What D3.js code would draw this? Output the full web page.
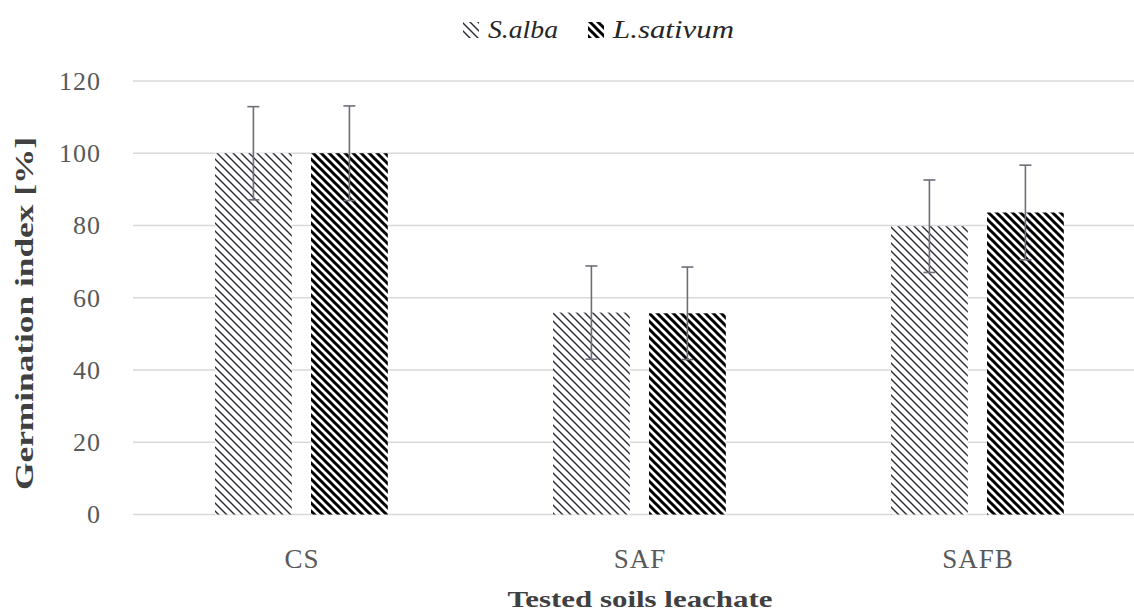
<!DOCTYPE html>
<html><head><meta charset="utf-8">
<script src="https://cdn.jsdelivr.net/npm/d3@7/dist/d3.min.js"></script>
<style>body{margin:0;background:#fff}svg{display:block}</style>
</head><body>
<svg id="c" width="1134" height="614"></svg>
<script>
const categories = ["CS", "SAF", "SAFB"];
const series = ["S.alba", "L.sativum"];
const sAlba = [100, 55.9, 79.8];
const sAlbaErr = [12.9, 12.9, 12.8];
const lSativum = [100, 55.7, 83.6];
const lSativumErr = [13.1, 12.8, 13.1];
const yTicks = [0, 20, 40, 60, 80, 100, 120];

const values = [sAlba, lSativum];
const errors = [sAlbaErr, lSativumErr];

const svg = d3.select("#c");
const FONT = "'Liberation Serif', 'DejaVu Serif', serif";

const defs = svg.append("defs");
function pat(id, sw, col) {
  const p = defs.append("pattern").attr("id", id).attr("patternUnits", "userSpaceOnUse")
    .attr("width", 8).attr("height", 8);
  p.append("rect").attr("width", 8).attr("height", 8).attr("fill", "#fff");
  p.append("path").attr("d", "M-1,-1 L9,9 M-1,7 L1,9 M7,-1 L9,1")
    .attr("stroke", col).attr("stroke-width", sw).attr("fill", "none");
}
pat("p0", 1.4, "#2a2a35");
pat("p1", 3.0, "#000");

const x0 = d3.scaleBand().domain(categories).range([132.4, 1146.4]);
const bw = x0.bandwidth();
const x1 = d3.scaleBand().domain(series).range([bw/2 - 96, bw/2 + 96]).paddingInner(0.2).paddingOuter(0.1);
const y = d3.scaleLinear().domain([0, 120]).range([514.5, 81]);

// gridlines
svg.append("g").selectAll("line").data(yTicks).join("line")
  .attr("x1", 133).attr("x2", 1134)
  .attr("y1", d => y(d)).attr("y2", d => y(d))
  .attr("stroke", "#d9d9d9").attr("stroke-width", 1.5);

// y tick labels
svg.append("g").selectAll("text").data(yTicks).join("text")
  .attr("x", 101).attr("y", d => y(d) + 8.8)
  .attr("text-anchor", "end").attr("font-family", FONT).attr("font-size", 26)
  .attr("letter-spacing", 1)
  .attr("fill", "#595959").text(d => d);

// bars
series.forEach((s, si) => {
  const g = svg.append("g");
  g.selectAll("rect").data(categories).join("rect")
    .attr("x", c => x0(c) + x1(s))
    .attr("width", x1.bandwidth())
    .attr("y", (c, i) => y(values[si][i]))
    .attr("height", (c, i) => y(0) - y(values[si][i]))
    .attr("fill", `url(#p${si})`);
});

// error bars
series.forEach((s, si) => {
  const g = svg.append("g").attr("stroke", "#6e6e7a").attr("stroke-width", 1.6);
  categories.forEach((c, i) => {
    const cx = x0(c) + x1(s) + x1.bandwidth() / 2;
    const v = values[si][i], e = errors[si][i];
    g.append("line").attr("x1", cx).attr("x2", cx).attr("y1", y(v + e)).attr("y2", y(v - e));
    g.append("line").attr("x1", cx - 6).attr("x2", cx + 6).attr("y1", y(v + e)).attr("y2", y(v + e));
    g.append("line").attr("x1", cx - 6).attr("x2", cx + 6).attr("y1", y(v - e)).attr("y2", y(v - e));
  });
});

// x labels
svg.append("g").selectAll("text").data(categories).join("text")
  .attr("x", c => x0(c) + bw / 2 + 0.5).attr("y", 568)
  .attr("text-anchor", "middle").attr("font-family", FONT).attr("font-size", 27)
  .attr("letter-spacing", 1)
  .attr("fill", "#595959").text(c => c);

// axis titles
svg.append("text").attr("x", 640).attr("y", 607).attr("text-anchor", "middle")
  .attr("font-family", FONT).attr("font-weight", "bold").attr("font-size", 23)
  .attr("textLength", 265).attr("lengthAdjust", "spacingAndGlyphs")
  .attr("fill", "#404040").text("Tested soils leachate");
svg.append("text").attr("transform", "translate(33,313.5) rotate(-90)").attr("text-anchor", "middle")
  .attr("font-family", FONT).attr("font-weight", "bold").attr("font-size", 25)
  .attr("textLength", 353).attr("lengthAdjust", "spacingAndGlyphs")
  .attr("fill", "#404040").text("Germination index [%]");

// legend
const leg = svg.append("g");
const legX = [463, 588];
const legW = [70, 121];
series.forEach((s, si) => {
  leg.append("rect").attr("x", legX[si]).attr("y", 22).attr("width", 16).attr("height", 16)
    .attr("fill", `url(#p${si})`);
  leg.append("text").attr("x", legX[si] + 25).attr("y", 38)
    .attr("font-family", FONT).attr("font-style", "italic").attr("font-size", 26)
    .attr("textLength", legW[si]).attr("lengthAdjust", "spacingAndGlyphs")
    .attr("fill", "#262626").text(s);
});
</script>
</body></html>
